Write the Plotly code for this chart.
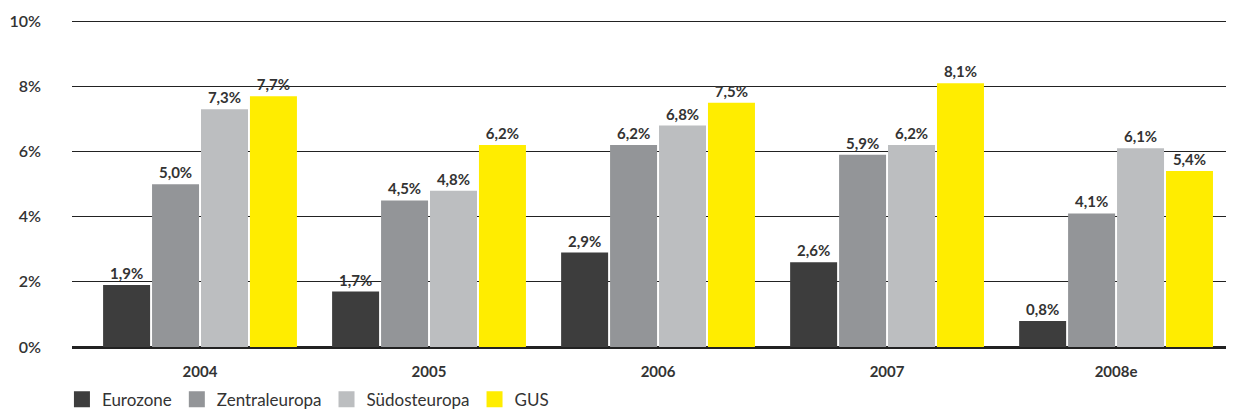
import plotly.graph_objects as go

years = ["2004", "2005", "2006", "2007", "2008e"]
eurozone = [1.9, 1.7, 2.9, 2.6, 0.8]
zentraleuropa = [5.0, 4.5, 6.2, 5.9, 4.1]
suedosteuropa = [7.3, 4.8, 6.8, 6.2, 6.1]
gus = [7.7, 6.2, 7.5, 8.1, 5.4]
y_ticks = [0, 2, 4, 6, 8, 10]
y_ticktext = ["0%", "2%", "4%", "6%", "8%", "10%"]

series = [
    ("Eurozone", eurozone, "#3d3d3d"),
    ("Zentraleuropa", zentraleuropa, "#939598"),
    ("Südosteuropa", suedosteuropa, "#bcbec0"),
    ("GUS", gus, "#ffed00"),
]

fig = go.Figure()
for name, vals, col in series:
    fig.add_trace(go.Bar(
        x=years, y=vals, name=name, showlegend=False,
        marker=dict(color=col, line=dict(width=0)),
        texttemplate="%{y:.1f}%", textposition="outside",
        textfont=dict(family="Lato", size=15, color="#333333", weight="bold"),
        cliponaxis=False,
    ))
# legend entries with larger square swatches
for name, vals, col in series:
    fig.add_trace(go.Scatter(
        x=[None], y=[None], mode="markers", name=name,
        marker=dict(symbol="square", size=17, color=col),
        showlegend=True,
    ))

# page body has an 8px margin: figure is shrunk/offset to compensate
fig.update_layout(
    width=1226, height=406,
    margin=dict(l=64, r=0, t=10, b=67, autoexpand=False),
    plot_bgcolor="white", paper_bgcolor="white",
    separators=",.",
    barmode="group", bargap=0.145, bargroupgap=0.04,
    font=dict(family="Lato", color="#333333"),
    showlegend=True,
    legend=dict(orientation="h", xref="container", yref="container",
                x=0.044, xanchor="left", y=0.035, yanchor="middle",
                font=dict(size=17, color="#333333"), itemwidth=30,
                itemsizing="trace", traceorder="normal"),
    xaxis=dict(range=[-0.559, 4.515], showgrid=False, showline=False,
               tickfont=dict(size=15, color="#333333", family="Lato", weight="bold"),
               ticks="", ticklabelstandoff=14),
    yaxis=dict(range=[0, 10.1], tickvals=y_ticks, ticktext=y_ticktext,
               showgrid=True, gridcolor="#222222", gridwidth=1.2, zeroline=True,
               zerolinecolor="#222222", zerolinewidth=3,
               tickfont=dict(size=16, color="#333333", family="Lato", weight=600),
               ticklabelstandoff=30, showline=False),
)
fig.write_html("out.html")
